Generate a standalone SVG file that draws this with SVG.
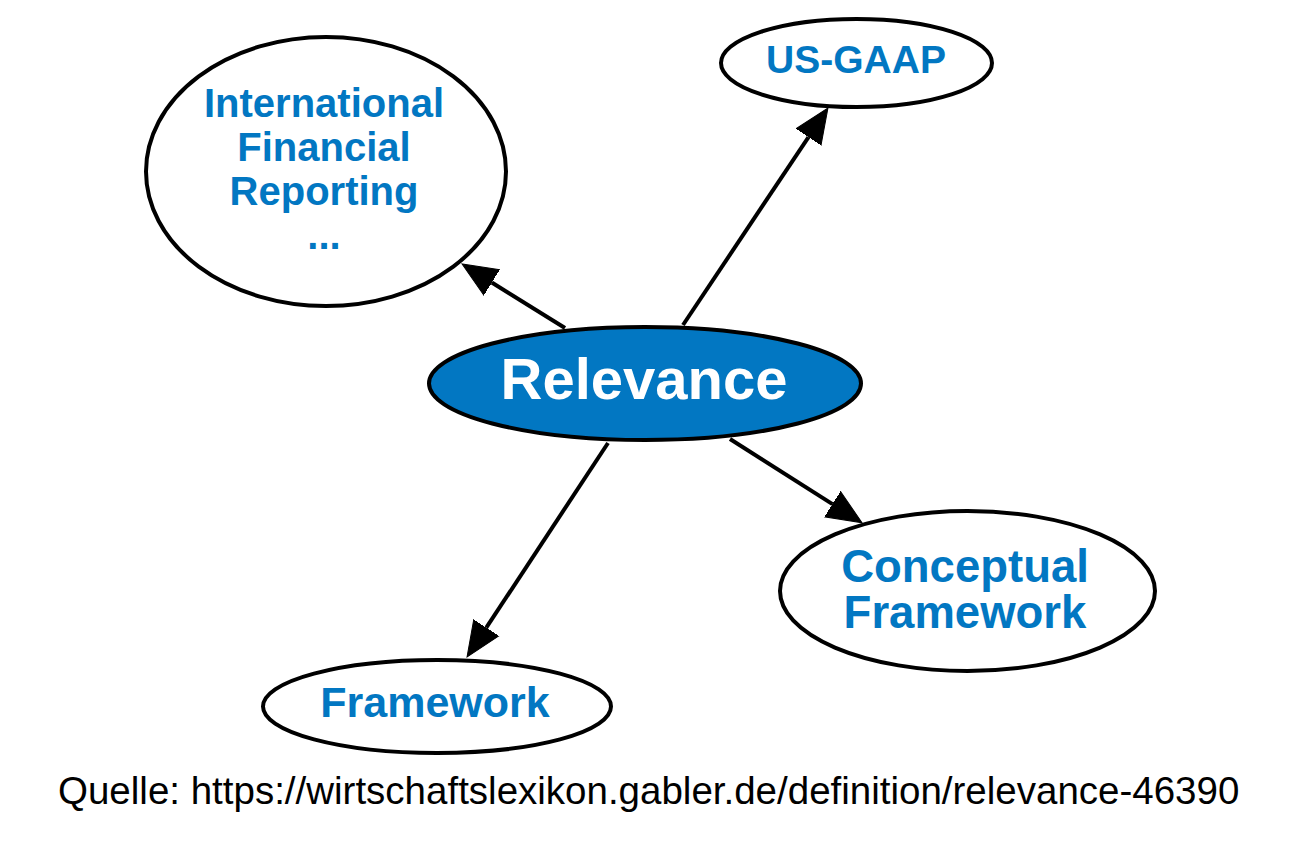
<svg xmlns="http://www.w3.org/2000/svg" width="1300" height="856" viewBox="0 0 1300 856">
<style>
.node{fill:#ffffff;stroke:#000000;stroke-width:4}
.main{fill:#0277c2;stroke:#000000;stroke-width:4}
.lbl{font-family:"Liberation Sans",Arial,sans-serif;font-weight:bold;fill:#0277c2;text-anchor:middle}
.mainlbl{font-family:"Liberation Sans",Arial,sans-serif;font-weight:bold;fill:#ffffff;text-anchor:middle;font-size:58px}
.edge{stroke:#000000;stroke-width:4;fill:none}
.src{font-family:"Liberation Sans",Arial,sans-serif;font-size:38.5px;fill:#000000}
</style>
<defs>
<marker id="arrow" markerUnits="userSpaceOnUse" markerWidth="40" markerHeight="34" viewBox="0 -17 40 34" refX="0" refY="0" orient="auto">
<path d="M0,-15 L35,0 L0,15 Z" fill="#000000" stroke="#000000" stroke-width="1"/>
</marker>
</defs>
<rect width="1300" height="856" fill="#ffffff"/>
<g id="connectors">
<line class="edge" x1="565" y1="328" x2="491.8" y2="282.5" marker-end="url(#arrow)"/>
<line class="edge" x1="683" y1="325" x2="808.5" y2="137.1" marker-end="url(#arrow)"/>
<line class="edge" x1="730" y1="439" x2="832.5" y2="504.1" marker-end="url(#arrow)"/>
<line class="edge" x1="608" y1="443" x2="486.3" y2="627.7" marker-end="url(#arrow)"/>
</g>
<g id="node-ifrs">
<ellipse class="node" cx="326" cy="171.5" rx="180" ry="134.5"/>
<text class="lbl" font-size="40" x="324" y="117">International</text>
<text class="lbl" font-size="40" x="324" y="161">Financial</text>
<text class="lbl" font-size="40" x="324" y="205">Reporting</text>
<text class="lbl" font-size="40" x="324" y="249">...</text>
</g>
<g id="node-usgaap">
<ellipse class="node" cx="856.5" cy="63" rx="135.5" ry="44"/>
<text class="lbl" font-size="39" x="856" y="73">US-GAAP</text>
</g>
<g id="node-relevance">
<ellipse class="main" cx="645" cy="383.5" rx="216" ry="56.5"/>
<text class="mainlbl" x="644" y="399">Relevance</text>
</g>
<g id="node-conceptual">
<ellipse class="node" cx="967.5" cy="591" rx="187.5" ry="80"/>
<text class="lbl" font-size="45.5" x="965" y="582">Conceptual</text>
<text class="lbl" font-size="45.5" x="965" y="628">Framework</text>
</g>
<g id="node-framework">
<ellipse class="node" cx="437" cy="706.5" rx="174" ry="46.5"/>
<text class="lbl" font-size="43" x="435" y="717">Framework</text>
</g>
<text class="src" x="58" y="804">Quelle: https://wirtschaftslexikon.gabler.de/definition/relevance-46390</text>
</svg>
